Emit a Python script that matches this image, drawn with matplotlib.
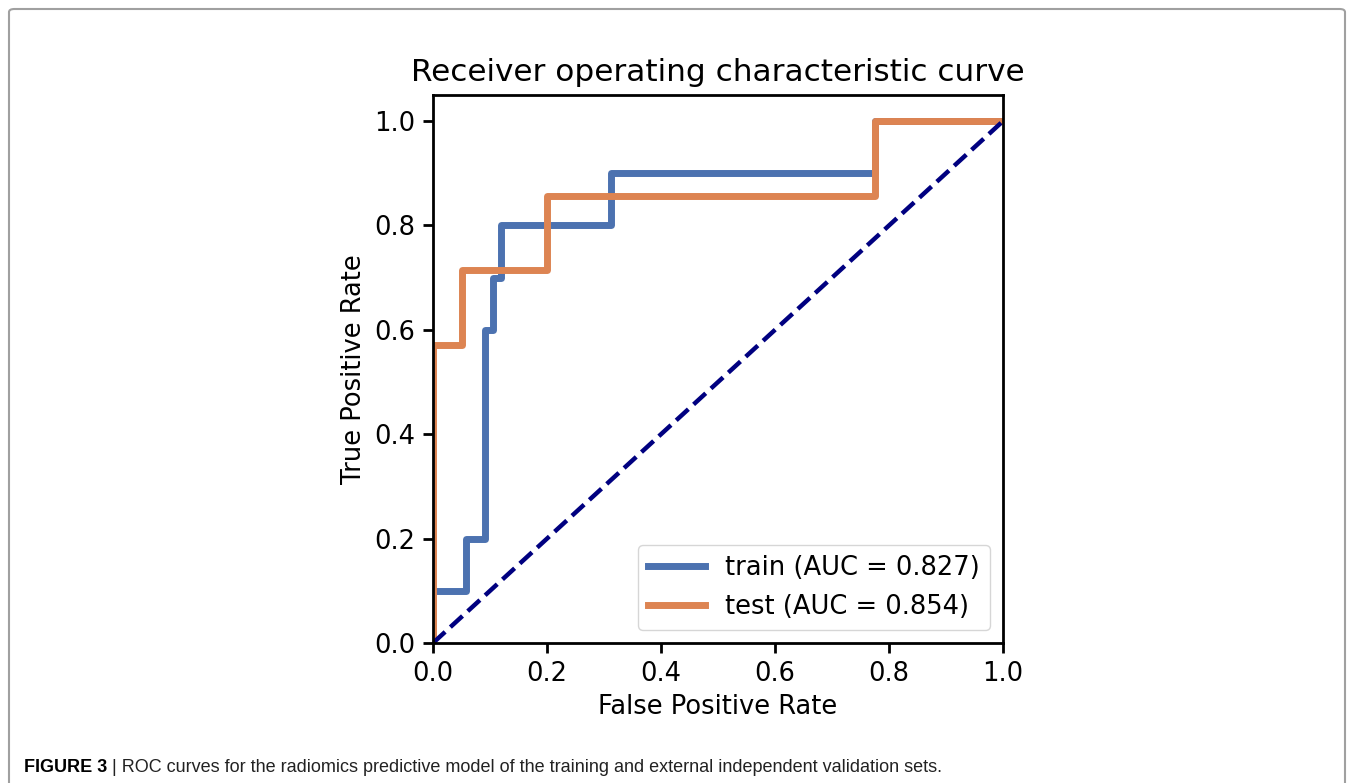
import matplotlib
matplotlib.use("Agg")
import matplotlib.pyplot as plt
from matplotlib.patches import FancyBboxPatch

# ROC points
train_fpr = [0.0, 0.0, 0.058, 0.058, 0.091, 0.091, 0.105, 0.105, 0.12, 0.12, 0.313, 0.313, 0.775, 0.775, 1.0]
train_tpr = [0.0, 0.1, 0.1, 0.2, 0.2, 0.6, 0.6, 0.7, 0.7, 0.8, 0.8, 0.9, 0.9, 1.0, 1.0]
test_fpr = [0.0, 0.0, 0.05, 0.05, 0.2, 0.2, 0.775, 0.775, 1.0]
test_tpr = [0.0, 0.571, 0.571, 0.714, 0.714, 0.857, 0.857, 1.0, 1.0]
train_auc = 0.827
test_auc = 0.854

title = "Receiver operating characteristic curve"
caption_bold = "FIGURE 3"
caption = " | ROC curves for the radiomics predictive model of the training and external independent validation sets."

fig = plt.figure(figsize=(13.55, 7.83), dpi=100)

# outer frame of the figure panel
frame = FancyBboxPatch((9 / 1355, -0.05), 1345 / 1355 - 9 / 1355, 1.05 - 9 / 783,
                       boxstyle="round,pad=0,rounding_size=0.004",
                       transform=fig.transFigure, fill=False,
                       edgecolor="#a0a0a0", linewidth=1.5)
fig.patches.append(frame)

ax = fig.add_axes([433 / 1355, 1 - 643 / 783, 570 / 1355, 548 / 783])
ax.plot(train_fpr, train_tpr, color="#4C72B0", lw=5,
        label=f"train (AUC = {train_auc:.3f})")
ax.plot(test_fpr, test_tpr, color="#DD8452", lw=5,
        label=f"test (AUC = {test_auc:.3f})")
ax.plot([0, 1], [0, 1], color="navy", lw=3.2, linestyle="--")

ax.set_xlim(0.0, 1.0)
ax.set_ylim(0.0, 1.05)
ax.set_xticks([0, 0.2, 0.4, 0.6, 0.8, 1.0])
ax.set_yticks([0, 0.2, 0.4, 0.6, 0.8, 1.0])
ax.tick_params(labelsize=18.5, length=7, width=2, pad=6)
for s in ax.spines.values():
    s.set_linewidth(2)
ax.set_xlabel("False Positive Rate", fontsize=18.5, labelpad=5)
ax.set_ylabel("True Positive Rate", fontsize=18.5, labelpad=5)
ax.set_title(title, fontsize=22.4, pad=10)
ax.legend(loc="lower right", fontsize=18.5, handlelength=2.2,
          borderpad=0.4, framealpha=0.8, edgecolor="#cccccc")

t = fig.text(24 / 1355, 1 - 772 / 783, caption_bold, fontsize=13,
             fontweight="bold", family="Liberation Sans", va="baseline")
fig.canvas.draw()
bb = t.get_window_extent()
fig.text(bb.x1 / 1355, 1 - 772 / 783, caption, fontsize=13,
         family="Liberation Sans", va="baseline", color="#222222")

fig.savefig("out.png", dpi=100)
